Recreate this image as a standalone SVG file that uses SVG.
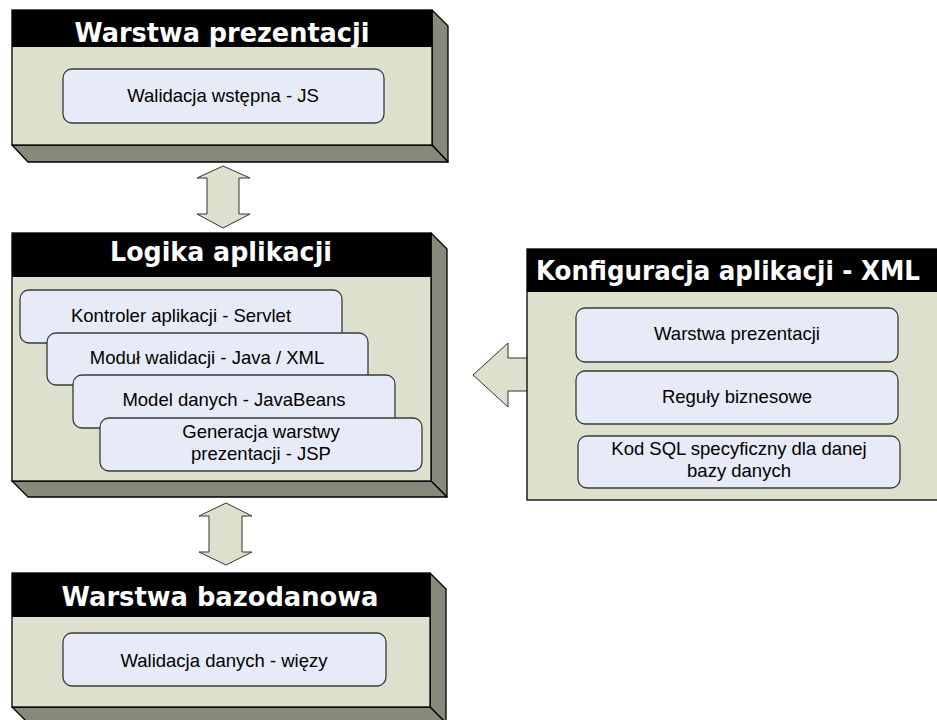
<svg xmlns="http://www.w3.org/2000/svg" width="937" height="720" viewBox="0 0 937 720">
<style>
.body{fill:#DDE0CC;stroke:#000;stroke-width:1.3}
.hdr{fill:#000}
.side{fill:#868A7B;stroke:#000;stroke-width:1.3;stroke-linejoin:round}
.inner{fill:#E6EBF7;stroke:#3a3a3a;stroke-width:1.3}
.arrow{fill:#DDE0CC;stroke:#333;stroke-width:1}
.ht{font-family:"DejaVu Sans",Verdana,sans-serif;font-weight:bold;font-size:26px;fill:#fff;text-anchor:middle}
.it{font-family:"Liberation Sans",Arial,sans-serif;font-size:18.5px;fill:#000;text-anchor:middle}
</style>
<rect width="937" height="720" fill="#fff"/>
<g id="connectors">
<polygon class="arrow" points="223,166 250,178 239,178 239,214 250,214 223,228 197,214 207,214 207,178 197,178"/>
<polygon class="arrow" points="226,503 252,516 242,516 242,552 252,552 226,565 199,552 209,552 209,516 199,516"/>
<polygon class="arrow" points="473,375 508,343 508,358 530,358 530,391 508,391 508,407"/>
</g>
<g id="warstwa-prezentacji">
<polygon class="side" points="432,10 448,26 448,162 432,145"/>
<polygon class="side" points="12,145 432,145 448,162 28,162"/>
<rect class="body" x="12" y="10" width="420" height="135"/>
<rect class="hdr" x="12" y="10" width="420" height="37"/>
<text class="ht" x="222" y="42" textLength="295" lengthAdjust="spacingAndGlyphs">Warstwa prezentacji</text>
<rect class="inner" x="63" y="69" width="321" height="54" rx="9"/>
<text class="it" x="223" y="102">Walidacja wstępna - JS</text>
</g>
<g id="logika-aplikacji">
<polygon class="side" points="431,233 447,249 447,497 431,481"/>
<polygon class="side" points="12,481 431,481 447,497 28,497"/>
<rect class="body" x="12" y="233" width="419" height="248"/>
<rect class="hdr" x="12" y="233" width="419" height="44"/>
<text class="ht" x="221" y="261" textLength="222" lengthAdjust="spacingAndGlyphs">Logika aplikacji</text>
<rect class="inner" x="20" y="290" width="322" height="53" rx="9"/>
<text class="it" x="181" y="322">Kontroler aplikacji - Servlet</text>
<rect class="inner" x="47" y="333" width="321" height="52" rx="9"/>
<text class="it" x="207" y="364">Moduł walidacji - Java / XML</text>
<rect class="inner" x="73" y="375" width="322" height="53" rx="9"/>
<text class="it" x="234" y="406">Model danych - JavaBeans</text>
<rect class="inner" x="100" y="418" width="322" height="53" rx="9"/>
<text class="it" x="261" y="438">Generacja warstwy</text>
<text class="it" x="261" y="460">prezentacji - JSP</text>
</g>
<g id="warstwa-bazodanowa">
<polygon class="side" points="430,573 446,589 446,723 430,707"/>
<polygon class="side" points="12,707 430,707 446,723 28,723"/>
<rect class="body" x="12" y="573" width="418" height="134"/>
<rect class="hdr" x="12" y="573" width="418" height="44"/>
<text class="ht" x="220" y="606" textLength="317" lengthAdjust="spacingAndGlyphs">Warstwa bazodanowa</text>
<rect class="inner" x="63" y="633" width="323" height="53" rx="9"/>
<text class="it" x="224" y="667">Walidacja danych - więzy</text>
</g>
<g id="konfiguracja">
<rect class="body" x="527" y="249" width="411" height="251"/>
<rect class="hdr" x="527" y="249" width="411" height="43"/>
<text class="ht" x="728" y="280" font-size="24" textLength="384" lengthAdjust="spacingAndGlyphs">Konfiguracja aplikacji - XML</text>
<rect class="inner" x="576" y="308" width="322" height="54" rx="9"/>
<text class="it" x="737" y="340">Warstwa prezentacji</text>
<rect class="inner" x="576" y="371" width="322" height="53" rx="9"/>
<text class="it" x="737" y="403">Reguły biznesowe</text>
<rect class="inner" x="578" y="436" width="322" height="52" rx="9"/>
<text class="it" x="739" y="455">Kod SQL specyficzny dla danej</text>
<text class="it" x="739" y="477">bazy danych</text>
</g>
</svg>
